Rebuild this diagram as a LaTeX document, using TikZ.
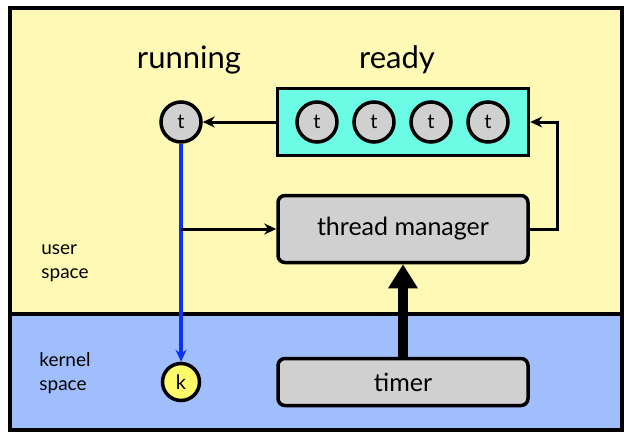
\documentclass[tikz,border=0pt]{standalone}
\usepackage{fontspec}
\setmainfont{Lato}
\usetikzlibrary{arrows.meta}
\definecolor{userbg}{HTML}{FEF9B4}
\definecolor{kernelbg}{HTML}{A0BEFC}
\definecolor{readybg}{HTML}{6CFCE6}
\definecolor{boxgray}{HTML}{D0D0D0}
\definecolor{kyellow}{HTML}{FEFA6A}
\definecolor{callblue}{HTML}{0A33F5}
\begin{document}
\begin{tikzpicture}[x=1pt, y=-1pt]
  \tikzstyle{thr}=[circle, draw, line width=3.5pt, minimum size=40pt, inner sep=0pt, fill=boxgray, font=\fontsize{20}{20}\selectfont]
  \tikzstyle{kern}=[thr, fill=kyellow, minimum size=37pt]
  \tikzstyle{box}=[draw, line width=3.5pt, rounded corners=7pt, fill=boxgray, minimum width=250pt, font=\fontsize{25}{25}\selectfont]
  \tikzstyle{title}=[font=\fontsize{31}{31}\selectfont]
  \tikzstyle{space}=[align=left, font=\fontsize{19}{24}\selectfont]
  \tikzstyle{edge}=[-{Stealth[length=12pt, width=11pt]}, line width=3pt]

  \useasboundingbox (0,0) rectangle (633,439);
  \fill[userbg]   (10,8)   rectangle (622,314);
  \fill[kernelbg] (10,314) rectangle (622,430);
  \draw[line width=3.5pt] (10,8) rectangle (622,430);
  \draw[line width=3.5pt] (10,314) -- (622,314);

  \node[title] (running) at (189,60) {running};
  \node[title] (ready)   at (397,60) {ready};
  \node[space] (user)    at (65,263) {user\\space};
  \node[space] (kernel)  at (65,373) {kernel\\space};

  \node[draw, line width=3.5pt, fill=readybg, minimum width=251pt, minimum height=67pt] (queue) at (403,122) {};
  \node[thr] (q1) at (317,122) {t};
  \node[thr] (q2) at (374,122) {t};
  \node[thr] (q3) at (431,122) {t};
  \node[thr] (q4) at (488,122) {t};

  \node[thr]  (cur) at (181,122) {t};
  \node[kern] (k)   at (181,382) {k};

  \node[box, minimum height=67pt] (manager) at (403,229) {thread manager};
  \node[box, minimum height=47pt] (timer)   at (403,382) {timer};

  \coordinate (split) at (181,229);
  \coordinate (up)    at (557,229);
  \coordinate (back)  at (557,122);

  \path[edge] (queue) edge (cur);
  \path[edge, callblue, line width=4.5pt] (cur) edge (k);
  \path[edge] (split) edge (manager);
  \draw[edge] (manager.east) -- (up) -- (back) -- (queue.east);
  \path[-{Triangle[length=24pt, width=28pt]}, line width=10pt] (timer) edge (manager);
\end{tikzpicture}
\end{document}
